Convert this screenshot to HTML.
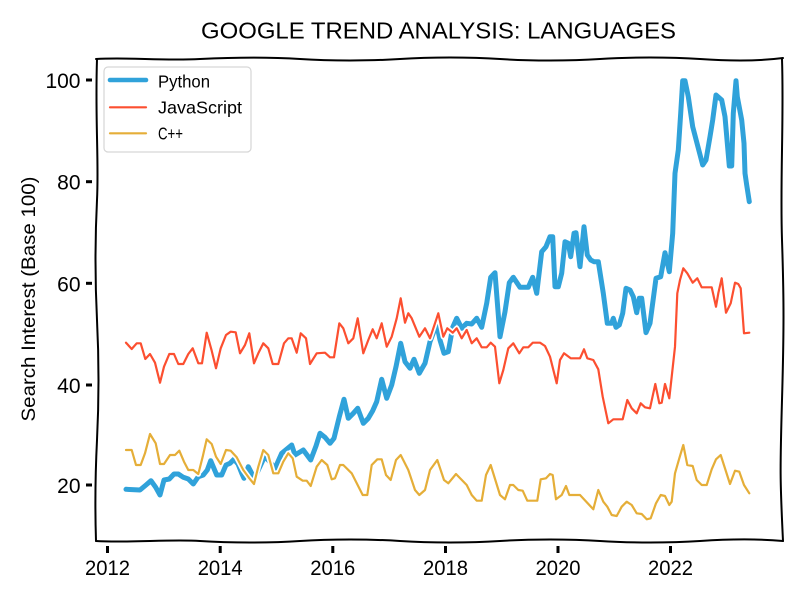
<!DOCTYPE html>
<html>
<head>
<meta charset="utf-8">
<style>
  html,body{margin:0;padding:0;background:#fff;}
  svg{display:block;}
  text{font-family:"Liberation Sans","DejaVu Sans",sans-serif;fill:#000;}
</style>
</head>
<body>
<svg width="800" height="600" viewBox="0 0 800 600" xmlns="http://www.w3.org/2000/svg">
  <rect width="800" height="600" fill="#fff"/>

  <!-- Title -->
  <text x="438.5" y="38.5" font-size="23" text-anchor="middle" textLength="475" lengthAdjust="spacingAndGlyphs">GOOGLE TREND ANALYSIS: LANGUAGES</text>

  <!-- Y axis label -->
  <text transform="translate(35,299) rotate(-90)" font-size="19.5" text-anchor="middle" textLength="245" lengthAdjust="spacingAndGlyphs">Search Interest (Base 100)</text>

  <!-- Y ticks -->
  <g fill="#000">
    <rect x="86" y="78.5" width="6" height="3"/>
    <rect x="86" y="180.2" width="6" height="3"/>
    <rect x="86" y="281.8" width="6" height="3"/>
    <rect x="86" y="383.5" width="6" height="3"/>
    <rect x="86" y="483.5" width="6" height="3"/>
  </g>
  <g font-size="21" text-anchor="end">
    <text x="80.5" y="88">100</text>
    <text x="80.5" y="189.7">80</text>
    <text x="80.5" y="291.3">60</text>
    <text x="80.5" y="393">40</text>
    <text x="80.5" y="493">20</text>
  </g>

  <!-- X ticks -->
  <g fill="#000">
    <rect x="106" y="546" width="3" height="7"/>
    <rect x="218.7" y="546" width="3" height="7"/>
    <rect x="331.3" y="546" width="3" height="7"/>
    <rect x="444" y="546" width="3" height="7"/>
    <rect x="556.5" y="546" width="3" height="7"/>
    <rect x="669" y="546" width="3" height="7"/>
  </g>
  <g font-size="21" text-anchor="middle">
    <text x="107.5" y="575" textLength="45" lengthAdjust="spacingAndGlyphs">2012</text>
    <text x="220.2" y="575" textLength="45" lengthAdjust="spacingAndGlyphs">2014</text>
    <text x="332.8" y="575" textLength="45" lengthAdjust="spacingAndGlyphs">2016</text>
    <text x="445.5" y="575" textLength="45" lengthAdjust="spacingAndGlyphs">2018</text>
    <text x="558" y="575" textLength="45" lengthAdjust="spacingAndGlyphs">2020</text>
    <text x="670.5" y="575" textLength="45" lengthAdjust="spacingAndGlyphs">2022</text>
  </g>

  <!-- Series -->
  <g fill="none" stroke-linejoin="round" stroke-linecap="round">
    <!-- Python -->
    <polyline stroke="#fff" stroke-width="6.5" points="126,489.3 140,490 146,485 151,480.7 155.7,487.3 160,495 164,480 169.3,479 174,474 178.3,474 183.3,477.3 188.3,479 193.3,484 198.3,476.7 203.3,475 207.3,470 210.7,460.7 216.7,475 221.7,475 226,465 230,463.3 234,459.3 238,464 242,474 244,478.3 248.3,466.7 251.7,473.3 254,480 258.3,470 263,460 265,456.7 270,462 275,468.3 281.7,453.3 291.7,445 295,455 303.3,450 310.7,460 316,446 320,433.3 325,437.3 330,443.3 334,438.3 339.3,416.7 344,399.3 348.3,418.3 353.3,413.3 357.7,408.3 363.3,423.3 368.3,418.3 372.7,410.7 376.7,401.7 381.7,379.3 386.7,398.3 391.7,385 396,366.7 400.7,343.3 405,361.7 410,368.3 414,359.3 419.3,373.3 425,363.3 430,341.7 436.7,324 440,340 444,353.3 448.3,351.7 452.7,327.3 456.7,318.3 461.7,328.3 466.7,323.3 471.7,324 476.7,318.3 481.7,327.3 486.7,303.3 490.7,277.3 495,272.7 500,336.7 505,311.7 509.3,282.7 513.3,277.3 520,287.3 528.3,287.3 532.7,277.3 536.7,293.3 541.7,251.7 546,246.7 550,236.7 552.7,236.7 555,286.7 558.3,286.7 561.7,273.3 565,241.7 568.3,243.3 570.7,256.7 574,233.3 576,232.7 580,266.7 584,226.7 587.3,255 590.7,260 594,261.7 598.3,261.7 603.3,293.3 607.3,323.3 611.7,323.3 613.3,318.3 616,327.3 619.3,325 622.7,313.3 626,288.3 630,290 633.3,296.7 636.7,312.7 639.3,298.3 641.7,298.3 646,332.7 650,323.3 656,278.3 660.7,276.7 665,252.7 669.3,271.7 672.7,233.3 675,173.3 678.3,150 680.7,113.3 682.7,80.7 685,80.7 688.3,96.7 692.7,126.7 702.7,165 706,160 710,136.7 712.7,120 716,95 721.7,100 725,116.7 729.3,166 731.7,166 733.3,113.3 736,80.7 737.3,96.7 741.7,120 744,143.3 745,173.3 746.7,185 749.3,201.7"/>
    <polyline stroke="#30a2da" stroke-width="5" points="126,489.3 140,490 146,485 151,480.7 155.7,487.3 160,495 164,480 169.3,479 174,474 178.3,474 183.3,477.3 188.3,479 193.3,484 198.3,476.7 203.3,475 207.3,470 210.7,460.7 216.7,475 221.7,475 226,465 230,463.3 234,459.3 238,464 242,474 244,478.3 248.3,466.7 251.7,473.3 254,480 258.3,470 263,460 265,456.7 270,462 275,468.3 281.7,453.3 291.7,445 295,455 303.3,450 310.7,460 316,446 320,433.3 325,437.3 330,443.3 334,438.3 339.3,416.7 344,399.3 348.3,418.3 353.3,413.3 357.7,408.3 363.3,423.3 368.3,418.3 372.7,410.7 376.7,401.7 381.7,379.3 386.7,398.3 391.7,385 396,366.7 400.7,343.3 405,361.7 410,368.3 414,359.3 419.3,373.3 425,363.3 430,341.7 436.7,324 440,340 444,353.3 448.3,351.7 452.7,327.3 456.7,318.3 461.7,328.3 466.7,323.3 471.7,324 476.7,318.3 481.7,327.3 486.7,303.3 490.7,277.3 495,272.7 500,336.7 505,311.7 509.3,282.7 513.3,277.3 520,287.3 528.3,287.3 532.7,277.3 536.7,293.3 541.7,251.7 546,246.7 550,236.7 552.7,236.7 555,286.7 558.3,286.7 561.7,273.3 565,241.7 568.3,243.3 570.7,256.7 574,233.3 576,232.7 580,266.7 584,226.7 587.3,255 590.7,260 594,261.7 598.3,261.7 603.3,293.3 607.3,323.3 611.7,323.3 613.3,318.3 616,327.3 619.3,325 622.7,313.3 626,288.3 630,290 633.3,296.7 636.7,312.7 639.3,298.3 641.7,298.3 646,332.7 650,323.3 656,278.3 660.7,276.7 665,252.7 669.3,271.7 672.7,233.3 675,173.3 678.3,150 680.7,113.3 682.7,80.7 685,80.7 688.3,96.7 692.7,126.7 702.7,165 706,160 710,136.7 712.7,120 716,95 721.7,100 725,116.7 729.3,166 731.7,166 733.3,113.3 736,80.7 737.3,96.7 741.7,120 744,143.3 745,173.3 746.7,185 749.3,201.7"/>

    <!-- JavaScript -->
    <polyline stroke="#fff" stroke-width="5.5" points="126,342.7 131.7,349 136.7,343.3 140.7,343.3 145.3,359 150,354 155,362.7 160,382.7 164,366.7 169.3,354 174,354 178.3,364 183.3,364 188.3,354 192.7,348.3 198.3,363.3 202,363.3 206.7,332.7 211.7,350.7 216,368.3 220.7,348.3 226,335 230.7,331.7 235.7,332.3 240,353.3 245,345 249.3,333.3 254,363.3 258.3,353.3 263.3,343.3 268.3,348.3 272.7,364 278.3,364 284,343.3 288.3,338.3 291.7,338.3 296.7,352.7 300.7,333.3 306,338.3 310,364 316.7,353.3 325,352.7 330,357.3 334,357.3 339.3,323.3 343.3,328.3 348.3,343.3 353.3,338.3 357.7,318.3 363.3,353.3 368.3,340 372.7,329.3 376.7,338.3 381.7,323.3 386.7,346.7 391.7,336.7 396.7,318.3 400.7,298.3 405,322.7 408.3,313.3 411.7,318.3 419.3,336.7 425,328.3 430,338.3 438.3,313.3 443.3,336.7 447.3,328.3 452.7,332.7 456.7,328.3 461.7,338.3 466.7,330 471.7,343.3 476.7,338.3 481.7,347.3 486.7,347.3 490.7,342.7 495,346.7 499.3,383.3 503.3,370 508.3,348.3 513.3,343.3 519.3,353.3 523.3,347.3 528.3,347.3 532.7,342.7 540,342.7 545,346 550,356.7 556.7,383.3 560,360 564,353.3 570.7,358.3 580,358.3 584,349.3 587.3,358.3 593.3,360 598.3,369.3 602.7,396.7 608.3,423.3 613.3,419.3 622.7,419.3 627.3,400 631.7,408.3 636.7,413.3 640.7,403.3 645,407.3 650,408.3 655.3,384 659.3,403.3 661.7,402.7 665,384 669.3,398.3 671.7,376.7 675,346.7 677.3,293.3 680,280 683.3,268.3 687.3,273.3 692.7,282.7 697.3,278.3 701.7,287.3 711.7,287.3 716,306.7 718.3,293.3 721.7,278.3 726,312.7 730.7,303.3 735,282.7 738.3,284 740.7,288.3 744,333.3 749.3,332.7"/>
    <polyline stroke="#fc4f30" stroke-width="2.2" points="126,342.7 131.7,349 136.7,343.3 140.7,343.3 145.3,359 150,354 155,362.7 160,382.7 164,366.7 169.3,354 174,354 178.3,364 183.3,364 188.3,354 192.7,348.3 198.3,363.3 202,363.3 206.7,332.7 211.7,350.7 216,368.3 220.7,348.3 226,335 230.7,331.7 235.7,332.3 240,353.3 245,345 249.3,333.3 254,363.3 258.3,353.3 263.3,343.3 268.3,348.3 272.7,364 278.3,364 284,343.3 288.3,338.3 291.7,338.3 296.7,352.7 300.7,333.3 306,338.3 310,364 316.7,353.3 325,352.7 330,357.3 334,357.3 339.3,323.3 343.3,328.3 348.3,343.3 353.3,338.3 357.7,318.3 363.3,353.3 368.3,340 372.7,329.3 376.7,338.3 381.7,323.3 386.7,346.7 391.7,336.7 396.7,318.3 400.7,298.3 405,322.7 408.3,313.3 411.7,318.3 419.3,336.7 425,328.3 430,338.3 438.3,313.3 443.3,336.7 447.3,328.3 452.7,332.7 456.7,328.3 461.7,338.3 466.7,330 471.7,343.3 476.7,338.3 481.7,347.3 486.7,347.3 490.7,342.7 495,346.7 499.3,383.3 503.3,370 508.3,348.3 513.3,343.3 519.3,353.3 523.3,347.3 528.3,347.3 532.7,342.7 540,342.7 545,346 550,356.7 556.7,383.3 560,360 564,353.3 570.7,358.3 580,358.3 584,349.3 587.3,358.3 593.3,360 598.3,369.3 602.7,396.7 608.3,423.3 613.3,419.3 622.7,419.3 627.3,400 631.7,408.3 636.7,413.3 640.7,403.3 645,407.3 650,408.3 655.3,384 659.3,403.3 661.7,402.7 665,384 669.3,398.3 671.7,376.7 675,346.7 677.3,293.3 680,280 683.3,268.3 687.3,273.3 692.7,282.7 697.3,278.3 701.7,287.3 711.7,287.3 716,306.7 718.3,293.3 721.7,278.3 726,312.7 730.7,303.3 735,282.7 738.3,284 740.7,288.3 744,333.3 749.3,332.7"/>

    <!-- C++ -->
    <polyline stroke="#fff" stroke-width="5.5" points="126,450 131.7,450 136,465 140.7,465 145,453.3 150,434 155.7,443.3 160,464 164,464 170,455 175,455 179.3,450.7 184,461.7 188.3,470 193.3,470 198.3,474 202.7,456.7 206.7,439.3 211.7,444 216,456.7 220.7,464 226,450 230.7,450.7 236.7,457.3 243.3,470 249.3,478.3 254,484 258.3,466.7 263.3,450 268.3,455 273.3,473.3 278.3,473.3 283.3,461.7 288.3,453.3 292.7,458.3 296.7,476.7 302.7,480.7 306.7,480.7 310.7,486 316.7,466.7 321.7,460 327.3,465 331.7,479.3 335,478.3 340,465 343.3,465 351.7,473.3 362.7,495 367.3,495 371.7,465 377.3,459.3 381.7,459.3 386,475 390.7,480 396,460 400.7,455 408.3,470 415,490 419.3,495 425,490 430,470 437.3,460 444,480 448.3,483.3 456,474 466.7,485 471.7,495 476.7,500.7 481.7,500.7 486,475 490.7,465 500,495 505,499.3 510,485 513.3,485 518.3,490 522.7,490.7 527.3,500.7 537.3,500.7 540.7,479.3 546,478.3 550,474 552.7,475 556,499.3 561.7,495 566,486 569.3,495 580,495 593.3,509.3 598.3,490 603.3,501.7 607.3,506.7 611.7,515 616.7,516 621.7,506.7 626.7,501.7 631.7,505 636.7,513.3 641.7,514 646.7,519.3 650.7,518.3 656,503.3 660.7,495 665,496 669.3,505 671.7,501.7 675,473.3 679.3,458.3 683.3,445 687.3,465 692.7,466 696.7,480 701.7,485 706.7,485 711.7,469.3 716,459.3 720.7,455 730,484 735,470.7 739.3,471.7 744,485 749.3,493.3"/>
    <polyline stroke="#e5ae38" stroke-width="2.2" points="126,450 131.7,450 136,465 140.7,465 145,453.3 150,434 155.7,443.3 160,464 164,464 170,455 175,455 179.3,450.7 184,461.7 188.3,470 193.3,470 198.3,474 202.7,456.7 206.7,439.3 211.7,444 216,456.7 220.7,464 226,450 230.7,450.7 236.7,457.3 243.3,470 249.3,478.3 254,484 258.3,466.7 263.3,450 268.3,455 273.3,473.3 278.3,473.3 283.3,461.7 288.3,453.3 292.7,458.3 296.7,476.7 302.7,480.7 306.7,480.7 310.7,486 316.7,466.7 321.7,460 327.3,465 331.7,479.3 335,478.3 340,465 343.3,465 351.7,473.3 362.7,495 367.3,495 371.7,465 377.3,459.3 381.7,459.3 386,475 390.7,480 396,460 400.7,455 408.3,470 415,490 419.3,495 425,490 430,470 437.3,460 444,480 448.3,483.3 456,474 466.7,485 471.7,495 476.7,500.7 481.7,500.7 486,475 490.7,465 500,495 505,499.3 510,485 513.3,485 518.3,490 522.7,490.7 527.3,500.7 537.3,500.7 540.7,479.3 546,478.3 550,474 552.7,475 556,499.3 561.7,495 566,486 569.3,495 580,495 593.3,509.3 598.3,490 603.3,501.7 607.3,506.7 611.7,515 616.7,516 621.7,506.7 626.7,501.7 631.7,505 636.7,513.3 641.7,514 646.7,519.3 650.7,518.3 656,503.3 660.7,495 665,496 669.3,505 671.7,501.7 675,473.3 679.3,458.3 683.3,445 687.3,465 692.7,466 696.7,480 701.7,485 706.7,485 711.7,469.3 716,459.3 720.7,455 730,484 735,470.7 739.3,471.7 744,485 749.3,493.3"/>
  </g>

  <!-- Axes frame (wobbly) -->
  <g fill="none" stroke="#000" stroke-width="2" stroke-linecap="round">
    <path d="M96,59 C130,57 160,61 200,59 S270,57 300,59 S370,61 400,59 S470,57 500,59 S570,61 600,59 S670,57 700,59 S760,61 783,58"/>
    <path d="M97,59 C95,120 99,160 97,200 S95,280 97,320 S99,400 97,440 S95,510 96,541"/>
    <path d="M782,59 C784,120 780,180 782,240 S784,330 782,400 S780,480 783,541"/>
    <path d="M96,541 C130,543 170,539 200,541 S270,543 300,541 S370,539 400,541 S470,543 500,541 S570,539 600,541 S670,543 700,541 S760,539 783,541"/>
  </g>

  <!-- Legend -->
  <rect x="104" y="67" width="147" height="85" rx="4" ry="4" fill="#fff" fill-opacity="0.85" stroke="#d6d6d6" stroke-width="1.2"/>
  <g fill="none" stroke-linecap="round">
    <line x1="110" y1="80" x2="146" y2="80" stroke="#30a2da" stroke-width="4.6"/>
    <line x1="110" y1="107.3" x2="146" y2="107.3" stroke="#fc4f30" stroke-width="2.2"/>
    <line x1="110" y1="133.3" x2="146" y2="133.3" stroke="#e5ae38" stroke-width="2.2"/>
  </g>
  <g font-size="17.5">
    <text x="158" y="87.3" textLength="52" lengthAdjust="spacingAndGlyphs">Python</text>
    <text x="158" y="113.3" textLength="84" lengthAdjust="spacingAndGlyphs">JavaScript</text>
    <text x="158" y="139.5" textLength="25" lengthAdjust="spacingAndGlyphs">C++</text>
  </g>
</svg>
</body>
</html>
